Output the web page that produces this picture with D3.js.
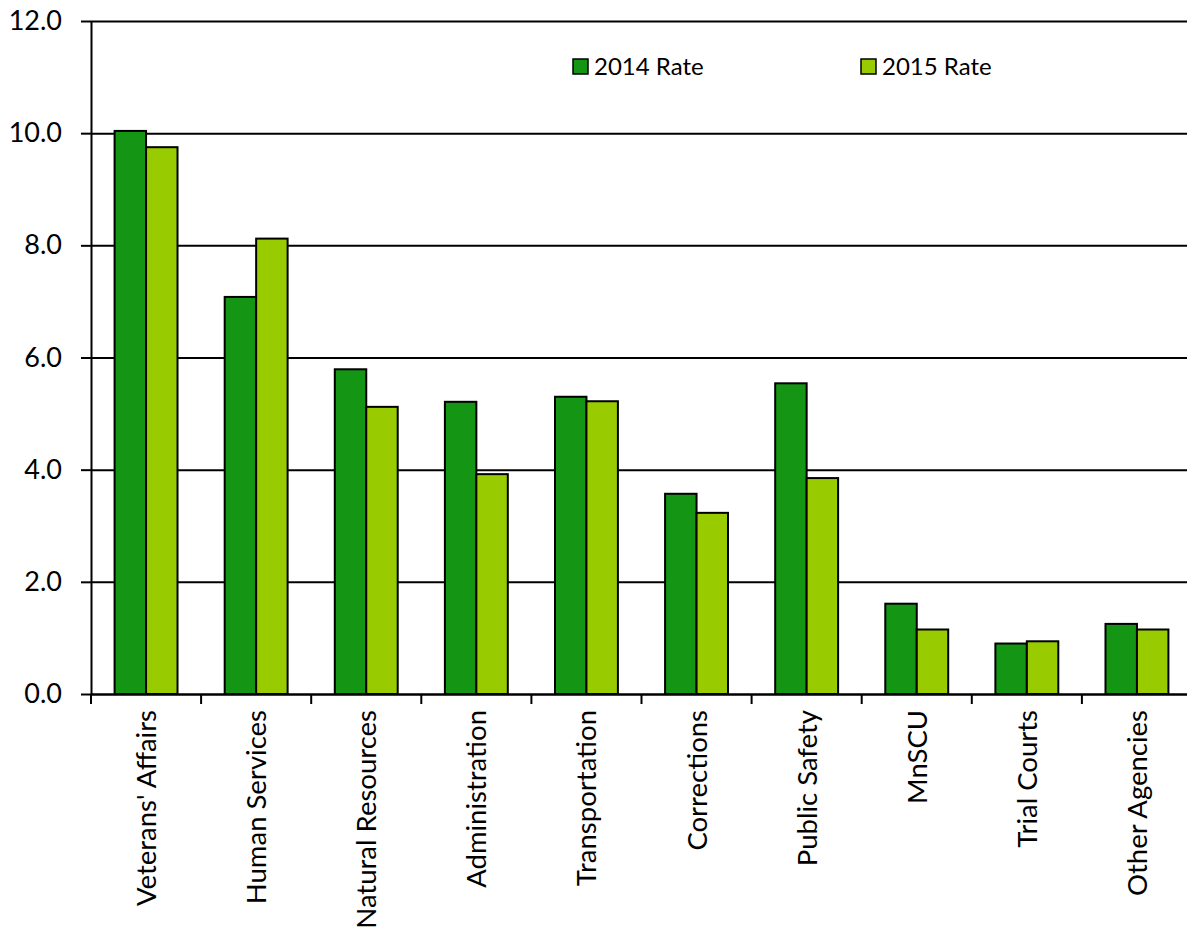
<!DOCTYPE html>
<html>
<head>
<meta charset="utf-8">
<script src="https://cdn.jsdelivr.net/npm/d3@7"></script>
<style>
  html, body { margin: 0; padding: 0; background: #fff; overflow: hidden; }
  svg { display: block; font-family: Lato, "Open Sans", sans-serif; }
</style>
</head>
<body>
<svg id="chart" width="1187" height="930"></svg>
<script>
// Agency injury rates, 2014 vs 2015
const categories = ["Veterans' Affairs", "Human Services", "Natural Resources", "Administration",
  "Transportation", "Corrections", "Public Safety", "MnSCU", "Trial Courts", "Other Agencies"];
const seriesNames = ["2014 Rate", "2015 Rate"];
const rate2014 = [10.04, 7.08, 5.79, 5.21, 5.30, 3.57, 5.54, 1.61, 0.90, 1.25];
const rate2015 = [9.75, 8.12, 5.12, 3.92, 5.22, 3.23, 3.85, 1.15, 0.94, 1.15];
const yTicks = [0, 2, 4, 6, 8, 10, 12];
const colors = ["#149614", "#99cc00"];

const series = [rate2014, rate2015];
const svg = d3.select("#chart");
const plotLeft = 91, plotRight = 1192, plotTop = 21, plotBottom = 694;
const plotW = plotRight - plotLeft;

const x0 = d3.scaleBand().domain(categories).range([plotLeft, plotRight]).paddingInner(0).paddingOuter(0);
const x1 = d3.scaleBand().domain(seriesNames).range([0, x0.bandwidth()]).paddingInner(0).paddingOuter(0.75);
const y = d3.scaleLinear().domain([0, 12]).range([plotBottom, plotTop]);

// gridlines
svg.append("g")
  .attr("transform", `translate(${plotLeft},0)`)
  .call(d3.axisLeft(y).tickValues(yTicks).tickSize(-plotW).tickFormat(""))
  .call(g => g.select(".domain").remove())
  .call(g => g.selectAll("line").attr("stroke", "#000").attr("stroke-width", 2));

// y axis with labels
svg.append("g")
  .attr("transform", `translate(${plotLeft},0)`)
  .call(d3.axisLeft(y).tickValues(yTicks).tickSize(10).tickPadding(19).tickFormat(d3.format(".1f")).tickSizeOuter(0))
  .call(g => g.select(".domain").attr("stroke", "#000").attr("stroke-width", 2))
  .call(g => g.selectAll("line").attr("stroke", "#000").attr("stroke-width", 2))
  .call(g => g.selectAll("text").attr("font-size", 27).attr("fill", "#000").attr("font-family", "Lato, sans-serif"));

// bars
const groups = svg.append("g").selectAll("g")
  .data(categories)
  .join("g")
  .attr("transform", d => `translate(${x0(d)},0)`);

groups.selectAll("rect")
  .data((d, i) => seriesNames.map((s, j) => ({ s, v: series[j][i], j })))
  .join("rect")
  .attr("x", d => x1(d.s))
  .attr("width", x1.bandwidth())
  .attr("y", d => y(d.v))
  .attr("height", d => y(0) - y(d.v))
  .attr("fill", d => colors[d.j])
  .attr("stroke", "#000")
  .attr("stroke-width", 2);

// x axis
const xAxis = svg.append("g")
  .attr("transform", `translate(0,${plotBottom})`)
  .call(d3.axisBottom(x0).tickSize(0).tickFormat(""));
xAxis.select(".domain").attr("stroke", "#000").attr("stroke-width", 2);

// category separator ticks
const bounds = categories.map(c => x0(c));
svg.append("g").selectAll("line")
  .data(bounds)
  .join("line")
  .attr("x1", d => d).attr("x2", d => d)
  .attr("y1", plotBottom).attr("y2", plotBottom + 10)
  .attr("stroke", "#000").attr("stroke-width", 2);

// category labels, rotated
svg.append("g").selectAll("text")
  .data(categories)
  .join("text")
  .attr("transform", d => `translate(${x0(d) + x0.bandwidth() / 2 + 10},${plotBottom + 16}) rotate(-90)`)
  .attr("text-anchor", "end")
  .attr("font-size", 27.5)
  .attr("fill", "#000")
  .text(d => d);

// legend
const legendX = [573, 861];
const legend = svg.append("g").selectAll("g")
  .data(seriesNames)
  .join("g")
  .attr("transform", (d, i) => `translate(${legendX[i]},59)`);
legend.append("rect")
  .attr("width", 15).attr("height", 15)
  .attr("fill", (d, i) => colors[i])
  .attr("stroke", "#000").attr("stroke-width", 1.5);
legend.append("text")
  .attr("x", 21).attr("y", 16)
  .attr("font-size", 24)
  .attr("fill", "#000")
  .text(d => d);
</script>
</body>
</html>
